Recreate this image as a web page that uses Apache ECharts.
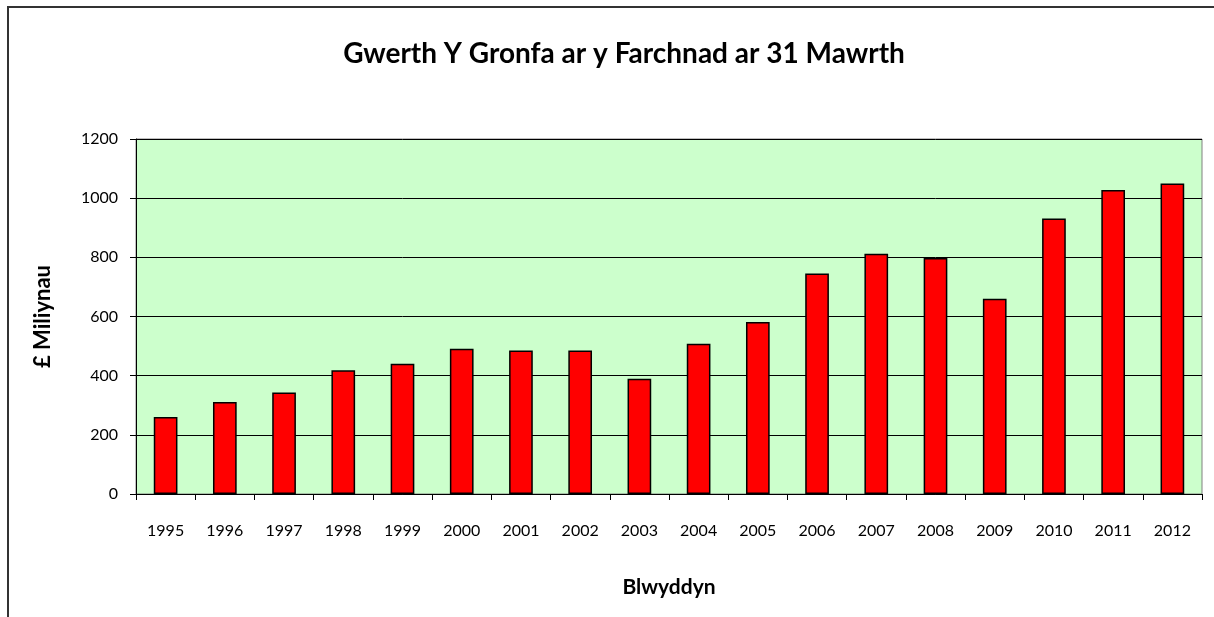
<!DOCTYPE html>
<html>
<head>
<meta charset="utf-8">
<script src="https://cdn.jsdelivr.net/npm/echarts@6/dist/echarts.min.js"></script>
<style>
html, body { margin: 0; padding: 0; background: #fff; }
#chart { width: 1214px; height: 617px; }
</style>
</head>
<body>
<div id="chart"></div>
<script>
// Blynyddoedd a gwerth y gronfa (£ miliynau)
var years = ["1995", "1996", "1997", "1998", "1999", "2000", "2001", "2002", "2003",
	"2004", "2005", "2006", "2007", "2008", "2009", "2010", "2011", "2012"];
var values = [260, 311, 343, 418, 440, 491, 485, 485, 390,
	508, 581, 745, 812, 798, 660, 931, 1028, 1050];
var yTicks = [0, 200, 400, 600, 800, 1000, 1200];

var font = "Lato, 'DejaVu Sans', sans-serif";
var chart = echarts.init(document.getElementById("chart"));

chart.setOption({
	animation : false,
	textStyle : { fontFamily : font },
	title : {
		text : "Gwerth Y Gronfa ar y Farchnad ar 31 Mawrth",
		left : 619,
		textAlign : "center",
		top : 35,
		textStyle : { fontSize : 28, fontWeight : "bold", color : "#000", fontFamily : font }
	},
	grid : {
		left : 136,
		right : 12,
		top : 139,
		bottom : 123,
		show : true,
		backgroundColor : "#ccffcc",
		borderColor : "#808080",
		borderWidth : 1
	},
	xAxis : {
		type : "category",
		data : years,
		boundaryGap : true,
		name : "Blwyddyn",
		nameLocation : "middle",
		nameGap : 83,
		nameTextStyle : { fontSize : 21, fontWeight : "bold", color : "#000" },
		axisLine : { lineStyle : { color : "#000", width : 1 } },
		axisTick : { show : true, length : 6, inside : false, lineStyle : { color : "#000" } },
		axisLabel : { fontSize : 16, color : "#000", margin : 29 },
		splitLine : { show : false }
	},
	yAxis : {
		type : "value",
		min : yTicks[0],
		max : yTicks[yTicks.length - 1],
		interval : 200,
		name : "£ Miliynau",
		nameLocation : "middle",
		nameGap : 82,
		nameTextStyle : { fontSize : 22, fontWeight : "bold", color : "#000" },
		axisLine : { show : true, lineStyle : { color : "#000", width : 1 } },
		axisTick : { show : true, length : 6, lineStyle : { color : "#000" } },
		axisLabel : {
			fontSize : 16, color : "#000", margin : 18,
			formatter : function(v) { return String(v); }
		},
		splitLine : { show : true, lineStyle : { color : "#000", width : 1 } }
	},
	series : [{
		type : "bar",
		data : values,
		barCategoryGap : "60%",
		itemStyle : { color : "#ff0000", borderColor : "#000", borderWidth : 1.5 }
	}],
	graphic : [{
		type : "polyline",
		shape : { points : [[8, 617], [8, 7], [1214, 7]] },
		style : { stroke : "#333", lineWidth : 2, fill : null },
		silent : true
	}]
});
</script>
</body>
</html>
